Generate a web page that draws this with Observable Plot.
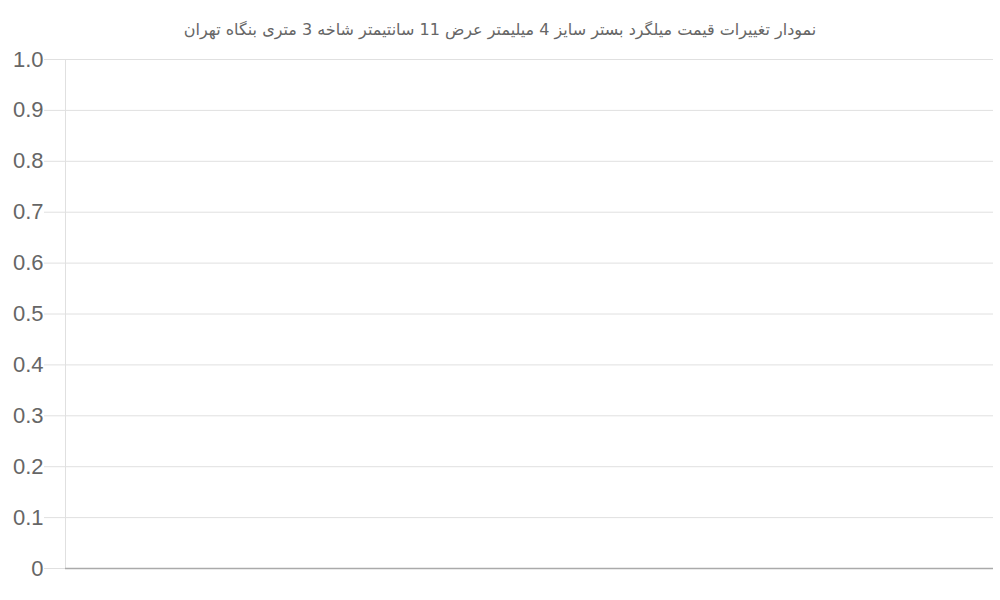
<!DOCTYPE html>
<html><head><meta charset="utf-8">
<script src="https://cdn.jsdelivr.net/npm/d3@7"></script>
<script src="https://cdn.jsdelivr.net/npm/@observablehq/plot@0.6"></script>
<style>
body{margin:0;background:#fff;}
#title{height:45px;line-height:60px;text-align:center;font-family:"DejaVu Sans",sans-serif;font-size:16px;color:#666;direction:rtl;}
</style></head><body>
<div id="title"></div>
<div id="chart"></div>
<script>
const title = "نمودار تغییرات قیمت میلگرد بستر سایز 4 میلیمتر عرض 11 سانتیمتر شاخه 3 متری بنگاه تهران";
const dates = [];
const prices = [];
const yTicks = [0, 0.1, 0.2, 0.3, 0.4, 0.5, 0.6, 0.7, 0.8, 0.9, 1.0];

document.getElementById("title").textContent = title;
const data = dates.map((d, i) => ({date: d, price: prices[i]}));

const chart = Plot.plot({
  width: 1000,
  height: 555,
  marginTop: 14,
  marginBottom: 32,
  marginLeft: 65,
  marginRight: 7,
  style: {fontFamily: "'Liberation Sans', Arial, sans-serif", color: "#666", background: "#fff"},
  x: {domain: [0, 1], axis: null},
  y: {domain: [0, 1], axis: null},
  marks: [
    Plot.ruleY(yTicks.filter(d => d > 0), {stroke: "#e0e0e0", strokeWidth: 1}),
    Plot.axisY({ticks: yTicks, tickSize: 21, tickPadding: 1, stroke: "#e0e0e0", label: null,
      tickFormat: d => d === 0 ? "0" : d.toFixed(1), fontSize: 22, fill: "#666"}),
    Plot.ruleX([0], {stroke: "#e0e0e0"}),
    Plot.ruleY([0], {stroke: "#aaa", strokeWidth: 1.5}),
    Plot.line(data, {x: "date", y: "price", stroke: "#4a90d9"})
  ]
});
document.getElementById("chart").appendChild(chart);
</script>
</body></html>
